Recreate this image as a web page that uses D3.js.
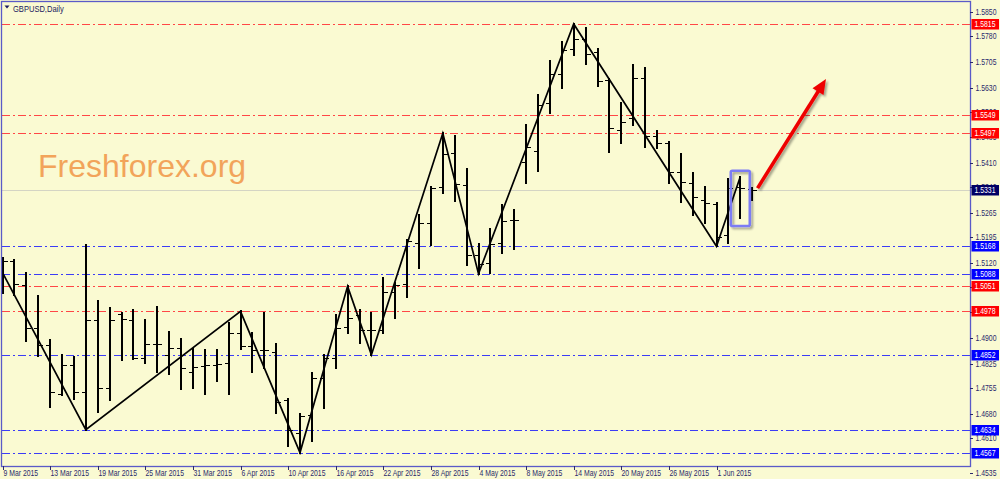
<!DOCTYPE html>
<html><head><meta charset="utf-8">
<script src="https://cdn.jsdelivr.net/npm/d3@7"></script>
<style>
html,body{margin:0;padding:0;background:#fafad2;}
svg{display:block;}
</style></head>
<body><svg id="c" width="1000" height="479"></svg>
<script>
// ---------------- DATA ----------------
const symbolTitle = "GBPUSD,Daily";
const watermark = "Freshforex.org";
const dates = [
 "9 Mar 2015","10 Mar 2015","11 Mar 2015","12 Mar 2015","13 Mar 2015",
 "16 Mar 2015","17 Mar 2015","18 Mar 2015","19 Mar 2015","20 Mar 2015",
 "23 Mar 2015","24 Mar 2015","25 Mar 2015","26 Mar 2015","27 Mar 2015",
 "30 Mar 2015","31 Mar 2015","1 Apr 2015","2 Apr 2015","3 Apr 2015",
 "6 Apr 2015","7 Apr 2015","8 Apr 2015","9 Apr 2015","10 Apr 2015",
 "13 Apr 2015","14 Apr 2015","15 Apr 2015","16 Apr 2015","17 Apr 2015",
 "20 Apr 2015","21 Apr 2015","22 Apr 2015","23 Apr 2015","24 Apr 2015",
 "27 Apr 2015","28 Apr 2015","29 Apr 2015","30 Apr 2015","1 May 2015",
 "4 May 2015","5 May 2015","6 May 2015","7 May 2015","8 May 2015",
 "11 May 2015","12 May 2015","13 May 2015","14 May 2015","15 May 2015",
 "18 May 2015","19 May 2015","20 May 2015","21 May 2015","22 May 2015",
 "25 May 2015","26 May 2015","27 May 2015","28 May 2015","29 May 2015",
 "1 Jun 2015","2 Jun 2015","3 Jun 2015","4 Jun 2015"];
const openP = [1.5122,1.5125,1.5055,1.4930,1.4880,1.4738,1.4822,1.4743,1.4953,1.4755,
 1.4971,1.4953,1.4842,1.4883,1.4851,1.4872,1.4802,1.4819,1.4822,1.4828,
 1.4915,1.4877,1.4866,1.4860,1.4720,1.4624,1.4676,1.4784,1.4842,1.4933,
 1.4968,1.4924,1.4924,1.5035,1.5058,1.5177,1.5236,1.5340,1.5439,1.5346,
 1.5142,1.5119,1.5177,1.5244,1.5413,1.5445,1.5585,1.5669,1.5742,1.5771,
 1.5733,1.5652,1.5506,1.5541,1.5658,1.5489,1.5468,1.5384,1.5352,1.5303,
 1.5291,1.5201,1.5340,1.5335];
const highP = [1.5134,1.5128,1.5090,1.5023,1.4895,1.4851,1.4845,1.5171,1.5008,1.4988,
 1.4973,1.4982,1.4953,1.4991,1.4918,1.4898,1.4869,1.4866,1.4866,1.4944,
 1.4978,1.4915,1.4973,1.4883,1.4723,1.4679,1.4799,1.4851,1.4968,1.5051,
 1.4982,1.4973,1.5075,1.5061,1.5186,1.5259,1.5340,1.5497,1.5489,1.5393,
 1.5174,1.5218,1.5288,1.5273,1.5521,1.5608,1.5707,1.5763,1.5815,1.5803,
 1.5742,1.5655,1.5585,1.5696,1.5687,1.5503,1.5471,1.5436,1.5381,1.5340,
 1.5294,1.5364,1.5370,1.5337];
const lowP = [1.5032,1.5026,1.4892,1.4848,1.4700,1.4735,1.4723,1.4634,1.4685,1.4720,
 1.4837,1.4840,1.4828,1.4802,1.4796,1.4752,1.4755,1.4738,1.4775,1.4738,
 1.4869,1.4802,1.4813,1.4682,1.4586,1.4567,1.4601,1.4697,1.4813,1.4915,
 1.4886,1.4852,1.4915,1.4959,1.5020,1.5105,1.5171,1.5323,1.5300,1.5113,
 1.5088,1.5090,1.5148,1.5160,1.5352,1.5387,1.5556,1.5629,1.5725,1.5699,
 1.5634,1.5442,1.5468,1.5521,1.5457,1.5454,1.5352,1.5297,1.5259,1.5236,
 1.5168,1.5177,1.5250,1.5303];
const closeP = [1.5125,1.5058,1.4930,1.4880,1.4743,1.4822,1.4743,1.4953,1.4755,1.4953,
 1.4956,1.4842,1.4883,1.4883,1.4872,1.4813,1.4816,1.4822,1.4825,1.4915,
 1.4877,1.4866,1.4866,1.4714,1.4634,1.4674,1.4784,1.4842,1.4930,1.4959,
 1.4924,1.4924,1.5035,1.5055,1.5183,1.5236,1.5337,1.5436,1.5349,1.5142,
 1.5116,1.5174,1.5241,1.5244,1.5457,1.5579,1.5669,1.5739,1.5771,1.5728,
 1.5649,1.5512,1.5530,1.5658,1.5489,1.5468,1.5384,1.5355,1.5311,1.5294,
 1.5195,1.5337,1.5337,1.5331];
const zigzagBar   = [0, 7, 20, 25, 29, 31, 37, 40, 48, 60, 62];
const zigzagPrice = [1.5091,1.4634,1.4978,1.4567,1.5051,1.4852,1.5497,1.5088,1.5815,1.5168,1.5370];
const redLevels  = [1.5815,1.5549,1.5497,1.5051,1.4978];
const blueLevels = [1.5168,1.5088,1.4852,1.4634,1.4567];
const currentPrice = 1.5331;
const priceTicks = ["1.5850","1.5780","1.5705","1.5630","1.5560","1.5485","1.5410","1.5340",
 "1.5265","1.5195","1.5120","1.5050","1.4975","1.4900","1.4825","1.4755","1.4680","1.4610","1.4535"];
const priceWindow = [1.4528, 1.5879];
const highlightBar = 62;
const arrowBars   = [63.45, 69.2];
const arrowPrices = [1.5337, 1.5655];

// ---------------- LAYOUT ----------------
const L = 2, T = 2, R = 970, B = 466;
const barStep = 11.9;
const svg = d3.select("#c");
const x = d3.scaleLinear().domain([0, dates.length - 1]).range([L + 0.5, L + 0.5 + (dates.length - 1) * barStep]);
const y = d3.scaleLinear().domain(priceWindow).range([B, T]);
const axisColor = "#5a5ac8", textColor = "#2a2a6c";
const font = "'Liberation Sans',Arial,sans-serif";

// condensed small text (MT4 style)
function label(g, px, py, str, col, size, sx){
  return g.append("text").attr("transform",`translate(${px},${py}) scale(${sx||0.78},1)`)
    .attr("dy","0.36em").attr("font-family",font).attr("font-size",size||8.8).attr("fill",col).text(str);
}

svg.append("rect").attr("width",1000).attr("height",479).attr("fill","#fafad2");

const defs = svg.append("defs");
defs.append("clipPath").attr("id","plot").append("rect").attr("x",L).attr("y",T).attr("width",R-L).attr("height",B-T);
const f = defs.append("filter").attr("id","sh").attr("x","-50%").attr("y","-50%").attr("width","200%").attr("height","200%");
f.append("feDropShadow").attr("dx",2).attr("dy",2).attr("stdDeviation",1.2).attr("flood-color","#000").attr("flood-opacity",0.35);

const plot = svg.append("g").attr("clip-path","url(#plot)");

// current price line
const cy = Math.round(y(currentPrice)) + 0.5;
plot.append("line").attr("x1",L).attr("x2",R).attr("y1",cy).attr("y2",cy).attr("stroke","#d4d4c4").attr("stroke-width",1);

// level lines
function levelLine(v, col){
  const yy = Math.round(y(v)) + 0.5;
  plot.append("line").attr("x1",L).attr("x2",R).attr("y1",yy).attr("y2",yy)
    .attr("stroke",col).attr("stroke-width",1.1).attr("stroke-dasharray","8,3,2,3");
}
redLevels.forEach(v => levelLine(v, "#ff4646"));
blueLevels.forEach(v => levelLine(v, "#3c3cf6"));

// watermark
svg.append("text").attr("x",38).attr("y",177).attr("font-family",font)
  .attr("font-size",32).attr("fill","#f2a45a").text(watermark);

// OHLC bars
const bars = plot.append("g").attr("stroke","#000").attr("shape-rendering","crispEdges");
dates.forEach((d, i) => {
  const xx = Math.round(x(i));
  bars.append("line").attr("x1",xx).attr("x2",xx).attr("y1",y(highP[i])-1).attr("y2",y(lowP[i])+1).attr("stroke-width",2);
  const yo = Math.round(y(openP[i])), yc = Math.round(y(closeP[i]));
  bars.append("line").attr("x1",xx-4).attr("x2",xx).attr("y1",yo+0.5).attr("y2",yo+0.5).attr("stroke-width",1.5);
  bars.append("line").attr("x1",xx).attr("x2",xx+5).attr("y1",yc+0.5).attr("y2",yc+0.5).attr("stroke-width",1.5);
});

// zigzag
const zz = zigzagBar.map((b, k) => [x(b), y(zigzagPrice[k])]);
plot.append("path").attr("d", d3.line()(zz)).attr("fill","none").attr("stroke","#000").attr("stroke-width",1.7);

// frame
svg.append("rect").attr("x",L-0.5).attr("y",T-0.5).attr("width",R-L+1).attr("height",B-T+1)
  .attr("fill","none").attr("stroke",axisColor).attr("stroke-width",1.3);

// price axis ticks + labels
const ay = svg.append("g");
priceTicks.forEach(t => {
  let yy = y(+t);
  if (yy > B - 4) yy = B + 7;
  ay.append("line").attr("x1",R).attr("x2",R+3).attr("y1",Math.round(yy)+0.5).attr("y2",Math.round(yy)+0.5).attr("stroke",textColor);
  label(ay, R+5.5, yy, t, textColor);
});

// level labels
function levelBox(v, col){
  const yy = Math.round(y(v));
  svg.append("rect").attr("x",R+1.5).attr("y",yy-5).attr("width",27.5).attr("height",10.5).attr("fill",col);
  label(svg, R+4.5, yy+0.3, v.toFixed(4), "#fff");
}
redLevels.forEach(v => levelBox(v, "#ff0000"));
blueLevels.forEach(v => levelBox(v, "#0000ff"));
levelBox(currentPrice, "#000064");

// date axis
const ax = svg.append("g");
dates.forEach((d, i) => {
  if (i % 4 !== 0) return;
  const xx = Math.round(x(i)) + 0.5;
  ax.append("line").attr("x1",xx).attr("x2",xx).attr("y1",B).attr("y2",B+4).attr("stroke",textColor);
  label(ax, xx, 473.3, d, textColor);
});

// title
svg.append("path").attr("d","M4.5,5.5 L9.5,5.5 L7,8.5 Z").attr("fill","#1a1a60");
label(svg, 13, 8.3, symbolTitle, "#1a1a60", 9, 0.84);

// highlight box
const hx = x(highlightBar);
svg.append("rect").attr("x",hx-9.5).attr("y",y(highP[highlightBar])-6).attr("width",19)
  .attr("height",y(lowP[highlightBar]) - y(highP[highlightBar]) + 14).attr("rx",1.5)
  .attr("fill","none").attr("stroke","#7c7cf4").attr("stroke-width",2.6).attr("filter","url(#sh)");

// arrow
const ax0 = x(arrowBars[0]), ay0 = y(arrowPrices[0]), ax1 = x(arrowBars[1]), ay1 = y(arrowPrices[1]);
const ang = Math.atan2(ay1-ay0, ax1-ax0), hl = 15, hw = 6.5;
const bx = ax1 - hl*Math.cos(ang), by = ay1 - hl*Math.sin(ang);
const nx = -Math.sin(ang), ny = Math.cos(ang);
const ag = svg.append("g").attr("filter","url(#sh)");
ag.append("line").attr("x1",ax0).attr("y1",ay0).attr("x2",bx+2*Math.cos(ang)).attr("y2",by+2*Math.sin(ang))
  .attr("stroke","#ee0000").attr("stroke-width",3.6);
ag.append("path").attr("d",`M${ax1},${ay1} L${bx+nx*hw},${by+ny*hw} L${bx-nx*hw},${by-ny*hw} Z`).attr("fill","#ee0000");
</script>
</body></html>
